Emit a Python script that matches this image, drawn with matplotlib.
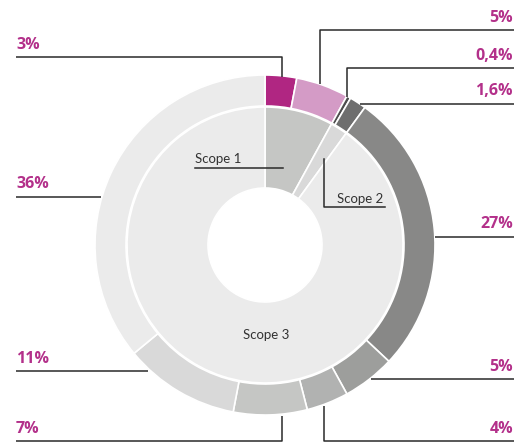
import matplotlib.pyplot as plt

# outer ring: emission categories (%)
outer_labels = ["3%", "5%", "0,4%", "1,6%", "27%", "5%", "4%", "7%", "11%", "36%"]
outer_values = [3, 5, 0.4, 1.6, 27, 5, 4, 7, 11, 36]
outer_colors = ["#b02682", "#d49bc6", "#4d4d4d", "#6e6e6e", "#888887",
                "#9d9e9c", "#b1b2b1", "#c5c6c4", "#d9d9d9", "#ebebeb"]

# inner ring: scopes
scope_labels = ["Scope 1", "Scope 2", "Scope 3"]
scope_values = [8, 2, 90]
scope_colors = ["#c5c6c4", "#d9d9d9", "#ebebeb"]

W, H = 514, 443
cx, cy = 265, H - 245
pink = "#b3308a"
ink = "#2a2a2a"

fig = plt.figure(figsize=(W / 100, H / 100), dpi=100)
ax = fig.add_axes([0, 0, 1, 1])

ax.pie(outer_values, colors=outer_colors, radius=170, center=(cx, cy),
       startangle=90, counterclock=False,
       wedgeprops=dict(width=31, edgecolor="white", linewidth=1.2))
ax.pie(scope_values, colors=scope_colors, radius=138, center=(cx, cy),
       startangle=90, counterclock=False,
       wedgeprops=dict(width=81, edgecolor="white", linewidth=1.2))

ax.set_xlim(0, W)
ax.set_ylim(0, H)
ax.set_aspect("equal")
ax.axis("off")

# label layout in pixel coords (y from top): text x, text baseline, leader path
layout = [
    (16, 49, "left", [(16, 57), (282, 57), (282, 77)]),
    (513, 22, "right", [(514, 30), (320, 30), (320, 84)]),
    (513, 60, "right", [(514, 68), (347, 68), (347, 97)]),
    (513, 95, "right", [(514, 104), (360, 104)]),
    (513, 228, "right", [(514, 237), (435, 237)]),
    (513, 371, "right", [(514, 379), (371, 379)]),
    (513, 433, "right", [(514, 441), (324, 441), (324, 406)]),
    (16, 433, "left", [(16, 441), (282, 441), (282, 416)]),
    (16, 363, "left", [(16, 371), (148, 371)]),
    (16, 188, "left", [(16, 197), (101, 197)]),
]

for lab, (tx, ty, ha, path) in zip(outer_labels, layout):
    ax.text(tx, H - ty, lab, ha=ha, va="baseline", color=pink,
            fontsize=11.5, fontweight="bold", family="Open Sans")
    ax.plot([p[0] for p in path], [H - p[1] for p in path],
            color=ink, lw=1.1, solid_capstyle="butt")

# scope labels
ax.text(195, H - 163, scope_labels[0], ha="left", va="baseline",
        color="#333333", fontsize=9.5, family="Lato")
ax.plot([195, 283], [H - 168, H - 168], color=ink, lw=1.1)
ax.text(337, H - 203, scope_labels[1], ha="left", va="baseline",
        color="#333333", fontsize=9.5, family="Lato")
ax.plot([324, 324, 385], [H - 159, H - 207, H - 207], color=ink, lw=1.1)
ax.text(266, H - 339, scope_labels[2], ha="center", va="baseline",
        color="#333333", fontsize=9.5, family="Lato")

fig.savefig("out.png", dpi=100)
